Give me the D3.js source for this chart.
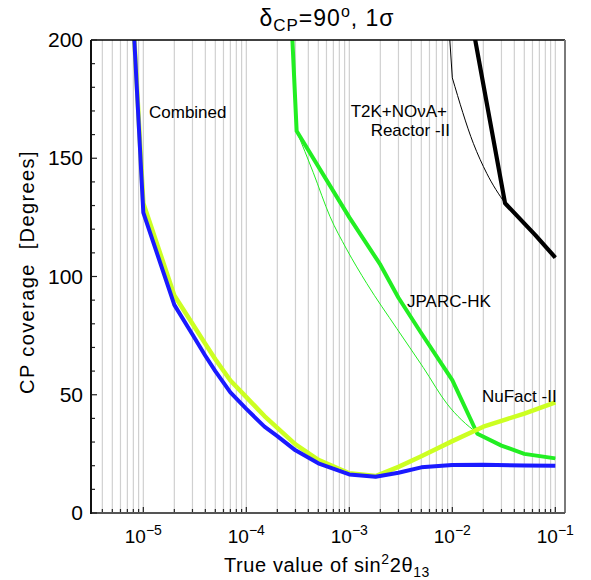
<!DOCTYPE html>
<html>
<head>
<meta charset="utf-8">
<script src="https://cdn.jsdelivr.net/npm/d3@7"></script>
<style>
  body { margin: 0; background: #fff; }
  svg { font-family: "Liberation Sans", Arial, sans-serif; }
</style>
</head>
<body>
<div id="chart"></div>
<script>
// Data (x = sin^2 2theta13, y = CP coverage in degrees)
const combinedX = [8e-6, 1e-5, 2e-5, 3e-5, 4e-5, 5e-5, 7e-5, 1e-4, 1.5e-4, 2e-4, 3e-4, 5e-4, 1e-3, 1.8e-3, 3e-3, 5e-3, 1e-2, 2e-2, 5e-2, 1e-1];
const combinedY = [208, 127, 88, 75.5, 66.5, 60, 51, 44, 36.5, 32.5, 26.5, 21, 16.3, 15.3, 17, 19.3, 20.3, 20.4, 20.1, 20];

const nufactX = [8e-6, 1e-5, 2e-5, 3e-5, 4e-5, 5e-5, 7e-5, 1e-4, 1.5e-4, 2e-4, 3e-4, 5e-4, 1e-3, 1.8e-3, 3e-3, 5e-3, 1e-2, 2e-2, 3e-2, 5e-2, 1e-1];
const nufactY = [208, 131, 92, 80, 71.5, 65, 56, 49, 41, 36, 29, 22.5, 16.8, 15.6, 19.5, 24, 30.4, 36.5, 39, 42, 46.8];

const jparcX = [2.7e-4, 3.08e-4, 1e-3, 2e-3, 3e-3, 5e-3, 1e-2, 1.75e-2, 3e-2, 5e-2, 1e-1];
const jparcY = [215, 161.5, 125, 105, 91, 76, 56.2, 33.5, 28.5, 25, 23.1];

const jparcThinX = [3.08e-4, 4.47e-4, 6.5e-4, 9.4e-4, 1.48e-3, 2.88e-3, 5.23e-3, 8.8e-3, 1.73e-2, 3e-2, 5e-2, 1e-1];
const jparcThinY = [161.5, 143.9, 125.3, 111.6, 97, 78.1, 61.5, 46.4, 34, 28.5, 25, 23.1];

const t2kX = [1.5e-2, 3.25e-2, 6.4e-2, 1e-1];
const t2kY = [211, 131, 117.5, 108];

const t2kThinX = [9e-3, 1e-2, 1.6e-2, 2.16e-2, 3.25e-2, 6.4e-2, 1e-1];
const t2kThinY = [214, 184, 156.3, 143.6, 131, 117.5, 108];

const yTicks = [0, 50, 100, 150, 200];
const xDecades = [-5, -4, -3, -2, -1];

const width = 591, height = 580;
const margin = { left: 91, right: 26, top: 40, bottom: 67 };

const svg = d3.select("#chart").append("svg")
    .attr("width", width)
    .attr("height", height);

// Scales
const x = d3.scaleLog()
    .domain([Math.pow(10, -5.508), Math.pow(10, -0.906)])
    .range([margin.left, width - margin.right]);

const y = d3.scaleLinear()
    .domain([0, 200])
    .range([height - margin.bottom, margin.top]);

const [x0, x1] = x.range();
const [y0, y1] = y.range();

svg.append("clipPath").attr("id", "plot-clip")
    .append("rect")
    .attr("x", x0).attr("y", y1)
    .attr("width", x1 - x0).attr("height", y0 - y1);

// Minor positions: 1..9 x 10^n inside the domain
const minorVals = [];
for (let n = -6; n <= 0; n++) {
    for (let k = 1; k <= 9; k++) {
        const v = k * Math.pow(10, n);
        if (v >= x.domain()[0] && v <= x.domain()[1]) minorVals.push(v);
    }
}

// Vertical gridlines
svg.append("g")
    .selectAll("line")
    .data(minorVals)
    .enter().append("line")
    .attr("x1", d => x(d)).attr("x2", d => x(d))
    .attr("y1", y1).attr("y2", y0)
    .attr("stroke", "#d0d0d0")
    .attr("stroke-width", 1.2);

// Curves (thin lines are smooth, except the first segment of the thin T2K one)
const pts = (xs, ys) => xs.map((v, i) => [x(v), y(ys[i])]);
const straight = d3.line();
const smooth = d3.line().curve(d3.curveMonotoneX);

const curves = svg.append("g").attr("clip-path", "url(#plot-clip)");

const series = [
    { xs: t2kThinX, ys: t2kThinY, color: "#000", w: 1, smoothFrom: 1 },
    { xs: t2kX, ys: t2kY, color: "#000", w: 4.2 },
    { xs: jparcThinX, ys: jparcThinY, color: "#22ee22", w: 1, smoothFrom: 0 },
    { xs: jparcX, ys: jparcY, color: "#22ee22", w: 4 },
    { xs: nufactX, ys: nufactY, color: "#ccff22", w: 4.5 },
    { xs: combinedX, ys: combinedY, color: "#1a1aff", w: 4 }
];

series.forEach(s => {
    const p = pts(s.xs, s.ys);
    let d;
    if (s.smoothFrom === undefined) {
        d = straight(p);
    } else {
        d = (s.smoothFrom > 0 ? straight(p.slice(0, s.smoothFrom + 1)) : "") + smooth(p.slice(s.smoothFrom));
    }
    curves.append("path")
        .attr("d", d)
        .attr("fill", "none")
        .attr("stroke", s.color)
        .attr("stroke-width", s.w)
        .attr("stroke-linejoin", "round");
});

// Frame: top black, right gray
svg.append("line")
    .attr("x1", x0).attr("x2", x1).attr("y1", y1).attr("y2", y1)
    .attr("stroke", "#000").attr("stroke-width", 1.5);
svg.append("line")
    .attr("x1", x1).attr("x2", x1).attr("y1", y1).attr("y2", y0)
    .attr("stroke", "#7a7a7a").attr("stroke-width", 2);

// Bottom axis with inward ticks
const gx = svg.append("g");
gx.selectAll(".xtick")
    .data(minorVals)
    .enter().append("line")
    .attr("x1", d => x(d)).attr("x2", d => x(d))
    .attr("y1", y0)
    .attr("y2", d => xDecades.includes(Math.round(Math.log10(d) * 1000) / 1000) ? y0 - 6 : y0 - 4)
    .attr("stroke", "#222").attr("stroke-width", 1.2);
gx.append("line")
    .attr("x1", x0).attr("x2", x1).attr("y1", y0).attr("y2", y0)
    .attr("stroke", "#555").attr("stroke-width", 2);

const xLabels = gx.selectAll(".xlabel")
    .data(xDecades)
    .enter().append("text")
    .attr("x", d => x(Math.pow(10, d)))
    .attr("y", y0 + 30)
    .attr("text-anchor", "middle")
    .attr("font-size", "19px")
    .attr("fill", "#000");
xLabels.append("tspan").text("10");
xLabels.append("tspan")
    .attr("dy", "-8")
    .attr("font-size", "14px")
    .text(d => "\u2212" + (-d));

// Left axis with inward ticks
const gy = svg.append("g");
gy.selectAll(".ytick")
    .data(d3.range(0, 201, 10))
    .enter().append("line")
    .attr("x1", x0)
    .attr("x2", d => d % 50 === 0 ? x0 + 6 : x0 + 4)
    .attr("y1", d => y(d)).attr("y2", d => y(d))
    .attr("stroke", "#222").attr("stroke-width", 1.2);
gy.append("line")
    .attr("x1", x0).attr("x2", x0).attr("y1", y1).attr("y2", y0 + 1)
    .attr("stroke", "#111").attr("stroke-width", 2);

gy.selectAll(".ylabel")
    .data(yTicks)
    .enter().append("text")
    .attr("x", x0 - 8)
    .attr("y", d => y(d) + 7)
    .attr("text-anchor", "end")
    .attr("font-size", "21px")
    .attr("fill", "#000")
    .text(d => d);

// Title
const title = svg.append("text")
    .attr("x", 327)
    .attr("y", 26)
    .attr("text-anchor", "middle")
    .attr("font-size", "23px")
    .attr("letter-spacing", "1px");
title.append("tspan").text("\u03b4");
title.append("tspan").attr("dy", 5).attr("font-size", "17px").text("CP");
title.append("tspan").attr("dy", -5).text("=90");
title.append("tspan").attr("dy", -9).attr("font-size", "16px").text("o");
title.append("tspan").attr("dy", 9).text(", 1\u03c3");

// Axis titles
const xTitle = svg.append("text")
    .attr("x", 327)
    .attr("y", 572)
    .attr("text-anchor", "middle")
    .attr("font-size", "20px")
    .attr("letter-spacing", "0.6px");
xTitle.append("tspan").text("True value of sin");
xTitle.append("tspan").attr("dy", -8).attr("font-size", "14px").text("2");
xTitle.append("tspan").attr("dy", 8).text("2\u03b8");
xTitle.append("tspan").attr("dy", 5).attr("font-size", "14px").text("13");

svg.append("text")
    .attr("transform", "translate(34, 272) rotate(-90)")
    .attr("text-anchor", "middle")
    .attr("font-size", "20px")
    .attr("letter-spacing", "1.4px")
    .attr("xml:space", "preserve")
    .text("CP coverage  [Degrees]");

// Curve labels
const labels = [
    { text: "Combined", x: 149, y: 118, anchor: "start" },
    { text: "T2K+NO\u03bdA+", x: 447, y: 117, anchor: "end" },
    { text: "Reactor -II", x: 450, y: 136, anchor: "end" },
    { text: "JPARC-HK", x: 407, y: 307, anchor: "start" },
    { text: "NuFact -II", x: 482, y: 402, anchor: "start" }
];
svg.selectAll(".curve-label")
    .data(labels)
    .enter().append("text")
    .attr("x", d => d.x)
    .attr("y", d => d.y)
    .attr("text-anchor", d => d.anchor)
    .attr("font-size", "17px")
    .attr("fill", "#000")
    .text(d => d.text);
</script>
</body>
</html>
